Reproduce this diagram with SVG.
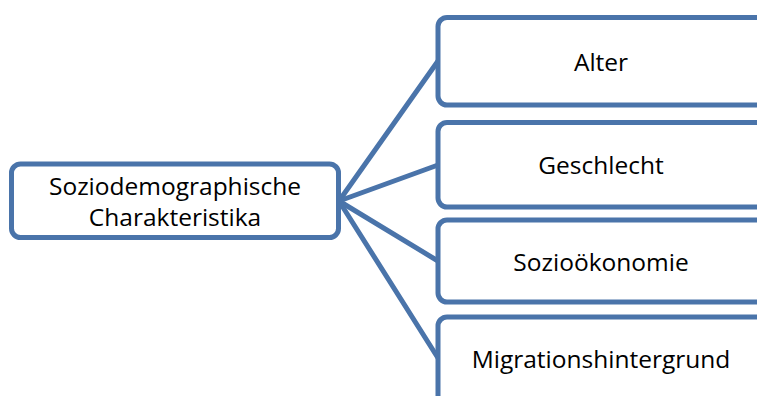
<svg xmlns="http://www.w3.org/2000/svg" width="757" height="396" viewBox="0 0 757 396">
  <style>
    .box { fill: #ffffff; stroke: #4a74aa; stroke-width: 5; }
    .link { stroke: #4a74aa; stroke-width: 5; fill: none; stroke-linecap: round; }
    .label { font-family: "Open Sans", "Noto Sans", "DejaVu Sans", sans-serif; font-size: 24.5px; fill: #000000; text-anchor: middle; }
  </style>
  <rect width="757" height="396" fill="#ffffff"/>

  <!-- fan of connectors from the root node to each category -->
  <g id="connectors">
    <line class="link" x1="339" y1="201" x2="438" y2="61"/>
    <line class="link" x1="339" y1="201" x2="438" y2="165"/>
    <line class="link" x1="339" y1="201" x2="438" y2="261"/>
    <line class="link" x1="339" y1="201" x2="438" y2="358"/>
  </g>

  <g id="root">
    <rect class="box" x="11.5" y="164" width="327" height="73.5" rx="9"/>
    <text class="label" x="175" y="195">Soziodemographische</text>
    <text class="label" x="175" y="226">Charakteristika</text>
  </g>

  <g id="alter">
    <rect class="box" x="438" y="17.5" width="340" height="87.5" rx="9"/>
    <text class="label" x="601" y="71">Alter</text>
  </g>

  <g id="geschlecht">
    <rect class="box" x="438" y="122.5" width="340" height="84.5" rx="9"/>
    <text class="label" x="601" y="174">Geschlecht</text>
  </g>

  <g id="soziooekonomie">
    <rect class="box" x="438" y="220" width="340" height="82" rx="9"/>
    <text class="label" x="601" y="271">Sozioökonomie</text>
  </g>

  <g id="migrationshintergrund">
    <rect class="box" x="438" y="317" width="340" height="90" rx="9"/>
    <text class="label" x="601" y="368">Migrationshintergrund</text>
  </g>
</svg>
